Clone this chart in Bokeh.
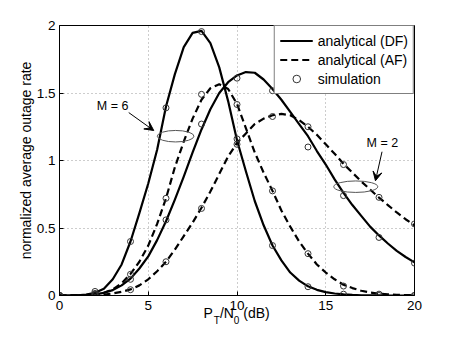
from bokeh.plotting import figure
from bokeh.models import (Range1d, FixedTicker, NumeralTickFormatter, Legend,
                          LegendItem, Label, Arrow, VeeHead, LinearAxis)
from bokeh.embed import file_html
from bokeh.resources import INLINE

# ---------------- data ----------------
snr = [0, 0.5, 1, 1.5, 2, 2.5, 3, 3.5, 4, 4.5, 5, 5.5, 6, 6.5, 7, 7.5, 8, 8.5, 9, 9.5,
       10, 10.5, 11, 11.5, 12, 12.5, 13, 13.5, 14, 14.5, 15, 15.5, 16, 16.5, 17, 17.5,
       18, 18.5, 19, 19.5, 20]

df_m6 = [0, 0, 0.001, 0.006, 0.02, 0.05, 0.12, 0.23, 0.40, 0.61, 0.83, 1.08, 1.40, 1.64,
         1.84, 1.945, 1.96, 1.87, 1.69, 1.44, 1.15, 0.92, 0.70, 0.52, 0.37, 0.26, 0.17,
         0.11, 0.068, 0.042, 0.025, 0.015, 0.008, 0.004, 0.002, 0.001, 0.0005, 0, 0, 0, 0]

af_m6 = [0, 0, 0.001, 0.003, 0.008, 0.02, 0.045, 0.09, 0.16, 0.25, 0.37, 0.53, 0.72, 0.95,
         1.14, 1.31, 1.45, 1.535, 1.565, 1.53, 1.42, 1.24, 1.06, 0.91, 0.775, 0.63, 0.51,
         0.40, 0.31, 0.23, 0.17, 0.12, 0.08, 0.055, 0.035, 0.022, 0.013, 0.008, 0.005,
         0.003, 0.002]

df_m2 = [0, 0, 0.001, 0.003, 0.008, 0.02, 0.04, 0.075, 0.125, 0.2, 0.29, 0.41, 0.55, 0.71,
         0.88, 1.06, 1.23, 1.38, 1.50, 1.58, 1.63, 1.655, 1.65, 1.60, 1.53, 1.45, 1.36,
         1.27, 1.18, 1.07, 0.97, 0.86, 0.76, 0.67, 0.59, 0.51, 0.445, 0.385, 0.33, 0.285,
         0.245]

af_m2 = [0, 0, 0.0005, 0.001, 0.003, 0.007, 0.015, 0.027, 0.045, 0.075, 0.12, 0.18, 0.25,
         0.34, 0.44, 0.54, 0.65, 0.77, 0.90, 1.03, 1.13, 1.20, 1.27, 1.31, 1.335, 1.345,
         1.335, 1.30, 1.25, 1.19, 1.12, 1.05, 0.975, 0.91, 0.845, 0.785, 0.725, 0.67,
         0.615, 0.565, 0.52]

sim_snr = [0, 2, 4, 6, 8, 10, 12, 14, 16, 18, 20]
sim_df_m6 = [0, 0.03, 0.40, 1.39, 1.955, 1.16, 0.37, 0.065, 0.01, 0.0, 0.0]
sim_af_m6 = [0, 0.01, 0.157, 0.72, 1.49, 1.415, 0.775, 0.31, 0.07, 0.01, 0.0]
sim_df_m2 = [0, 0.015, 0.12, 0.56, 1.27, 1.61, 1.517, 1.10, 0.74, 0.43, 0.24]
sim_af_m2 = [0, 0.005, 0.043, 0.25, 0.645, 1.12, 1.326, 1.25, 0.97, 0.727, 0.53]

x_ticks = [0, 5, 10, 15, 20]
y_ticks = [0, 0.5, 1, 1.5, 2]
legend_labels = ["analytical (DF)", "analytical (AF)", "simulation"]

# x-axis title "P_T/N_0 (dB)": main-size pieces and subscript pieces, with their
# horizontal anchor (in dB along the x axis)
xtitle_main = {8.38: "P", 9.43: "/N", 11.10: "(dB)"}
xtitle_sub = {8.865: "T", 9.98: "0"}

FONT = "Liberation Sans"

# ---------------- figure ----------------
p = figure(width=441, height=328, x_range=Range1d(0, 20), y_range=Range1d(0, 2),
           output_backend="svg", toolbar_location=None,
           min_border_left=59, min_border_top=25, min_border_right=27, min_border_bottom=32)
p.background_fill_color = "white"
p.border_fill_color = "white"
p.outline_line_color = "black"
p.outline_line_width = 1

for ax, ticks in ((p.xaxis[0], x_ticks), (p.yaxis[0], y_ticks)):
    ax.ticker = FixedTicker(ticks=ticks)
    ax.minor_tick_line_color = None
    ax.major_tick_in = 4
    ax.major_tick_out = 0
    ax.axis_line_color = "black"
    ax.major_tick_line_color = "black"
    ax.major_label_text_font = FONT
    ax.major_label_text_font_size = "13.5px"
    ax.major_label_text_color = "black"
p.yaxis[0].formatter = NumeralTickFormatter(format="0.[0]")
p.xaxis[0].major_label_standoff = 5
p.yaxis[0].major_label_standoff = 4
p.yaxis[0].axis_label = "normalized average outage rate"
p.yaxis[0].axis_label_text_font = FONT
p.yaxis[0].axis_label_text_font_size = "14px"
p.yaxis[0].axis_label_text_font_style = "normal"
p.yaxis[0].axis_label_text_color = "black"
p.yaxis[0].axis_label_standoff = 0


def title_axis(pieces, size, standoff):
    ax = LinearAxis(ticker=FixedTicker(ticks=list(pieces.keys())),
                    major_label_overrides=dict(pieces))
    ax.axis_line_color = None
    ax.major_tick_line_color = None
    ax.minor_tick_line_color = None
    ax.major_tick_in = 0
    ax.major_tick_out = 0
    ax.minor_tick_in = 0
    ax.minor_tick_out = 0
    ax.major_label_standoff = standoff
    ax.major_label_text_font = FONT
    ax.major_label_text_font_size = size
    ax.major_label_text_color = "black"
    return ax


p.add_layout(title_axis(xtitle_main, "14px", -8), "below")
p.add_layout(title_axis(xtitle_sub, "10px", -9), "below")

p.xgrid.ticker = FixedTicker(ticks=x_ticks)
p.ygrid.ticker = FixedTicker(ticks=y_ticks)
for g in (p.xgrid[0], p.ygrid[0]):
    g.grid_line_color = "#9a9a9a"
    g.grid_line_dash = "1 3"
    g.grid_line_width = 1

# ---------------- curves ----------------
r_df = p.line(snr, df_m6, line_color="black", line_width=2.2, line_join="round")
p.line(snr, df_m2, line_color="black", line_width=2.2, line_join="round")
r_af = p.line(snr, af_m6, line_color="black", line_width=2.2, line_dash="7 4")
p.line(snr, af_m2, line_color="black", line_width=2.2, line_dash="7 4")

r_sim = None
for ys in (sim_df_m6, sim_af_m6, sim_df_m2, sim_af_m2):
    r = p.scatter(sim_snr, ys, marker="circle", size=6, fill_color=None,
                  line_color="#333333", line_width=1)
    if r_sim is None:
        r_sim = r

# ---------------- annotations ----------------
p.ellipse(x=[6.54], y=[1.18], width=[2.07], height=[0.085], fill_color=None,
          line_color="#555555", line_width=1)
p.ellipse(x=[16.69], y=[0.806], width=[2.48], height=[0.085], fill_color=None,
          line_color="#555555", line_width=1)
p.add_layout(Arrow(x_start=3.90, y_start=1.355, x_end=5.31, y_end=1.222,
                   line_color="black", line_width=1,
                   end=VeeHead(size=9, fill_color="black", line_color="black")))
p.add_layout(Arrow(x_start=18.17, y_start=1.065, x_end=17.8, y_end=0.85,
                   line_color="black", line_width=1,
                   end=VeeHead(size=9, fill_color="black", line_color="black")))
p.add_layout(Label(x=2.99, y=1.404, text="M = 6", text_align="center",
                   text_baseline="middle", text_font=FONT, text_font_size="12.5px",
                   text_color="black"))
p.add_layout(Label(x=18.19, y=1.126, text="M = 2", text_align="center",
                   text_baseline="middle", text_font=FONT, text_font_size="12.5px",
                   text_color="black"))

# ---------------- legend ----------------
legend = Legend(items=[LegendItem(label=legend_labels[0], renderers=[r_df]),
                       LegendItem(label=legend_labels[1], renderers=[r_af]),
                       LegendItem(label=legend_labels[2], renderers=[r_sim])],
                location="top_right", margin=0, padding=5, spacing=0,
                glyph_width=33, glyph_height=19, label_height=19, label_standoff=5,
                label_text_font=FONT, label_text_font_size="14px",
                label_text_color="black",
                border_line_color="black", border_line_width=1,
                background_fill_color="white", background_fill_alpha=1.0)
p.add_layout(legend)

open("out.html", "w").write(file_html(p, INLINE))
